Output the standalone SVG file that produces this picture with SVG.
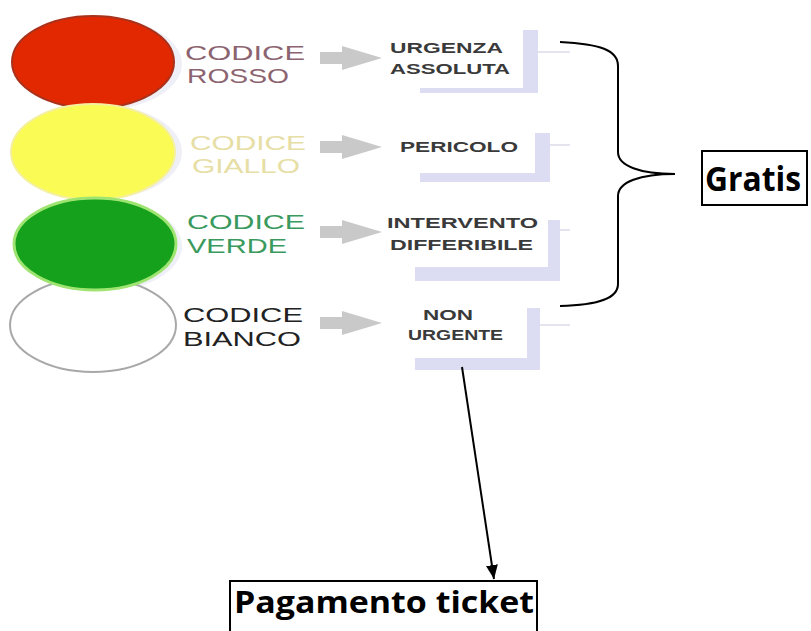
<svg xmlns="http://www.w3.org/2000/svg" width="811" height="631" viewBox="0 0 811 631">
<defs>
<style>
.code{font-family:"Liberation Sans",Arial,sans-serif;font-size:21px;}
.lab{font-family:"Liberation Sans",Arial,sans-serif;font-size:14px;font-weight:bold;fill:#3a3a3a;}
.garrow{fill:#c9c9c9;}
.brk{fill:#dcdcf2;}
.faint{stroke:#e4e4ee;stroke-width:2;fill:none;}
.big{font-family:"Open Sans","Liberation Sans",sans-serif;font-weight:bold;fill:#000;}
.box{fill:#fff;stroke:#000;stroke-width:2;}
</style>
<marker id="ah" viewBox="0 0 14 12" refX="14" refY="6" markerWidth="14" markerHeight="12" markerUnits="userSpaceOnUse" orient="auto">
<path d="M0,0 L14,6 L0,12 z" fill="#000"/>
</marker>
<g id="arr"><path class="garrow" d="M0,-6 L22,-6 L22,-12 L62,0 L22,12 L22,6 L0,6 z"/></g>
</defs>
<rect width="811" height="631" fill="#fff"/>

<g id="lights">
<ellipse cx="100" cy="64" rx="82" ry="46" fill="#e4e4f2" opacity="0.6"/>
<ellipse cx="100" cy="152" rx="82" ry="47" fill="#e4e4f2" opacity="0.6"/>
<ellipse cx="100" cy="246" rx="82" ry="46" fill="#e4e4f2" opacity="0.6"/>
<ellipse id="white-light" cx="93" cy="325" rx="83" ry="47" fill="#fff" stroke="#a8a8a8" stroke-width="2"/>
<ellipse id="red-light" cx="93" cy="62" rx="81" ry="46" fill="#e22800" stroke="#a8321c" stroke-width="2"/>
<ellipse id="yellow-light" cx="93" cy="152" rx="82" ry="48" fill="#fbfb55" stroke="#f4f0a0" stroke-width="2"/>
<ellipse id="green-light" cx="95" cy="244" rx="81" ry="46" fill="#16a11c" stroke="#9ee470" stroke-width="3"/>
</g>

<g id="row-rosso">
<text class="code" fill="#8c6470" x="185" y="60" textLength="120" lengthAdjust="spacingAndGlyphs">CODICE</text>
<text class="code" fill="#8c6470" x="187" y="83" textLength="102" lengthAdjust="spacingAndGlyphs">ROSSO</text>
<use href="#arr" x="320" y="58"/>
<path class="brk" d="M523,30 H538 V93 H420 V88 H523 z"/>
<line class="faint" x1="538" y1="52" x2="570" y2="52"/>
<text class="lab" x="390" y="53" textLength="113" lengthAdjust="spacingAndGlyphs">URGENZA</text>
<text class="lab" x="390" y="74" textLength="120" lengthAdjust="spacingAndGlyphs">ASSOLUTA</text>
</g>

<g id="row-giallo">
<text class="code" fill="#e6dea4" x="190" y="150" textLength="116" lengthAdjust="spacingAndGlyphs">CODICE</text>
<text class="code" fill="#e6dea4" x="192" y="173" textLength="108" lengthAdjust="spacingAndGlyphs">GIALLO</text>
<use href="#arr" x="320" y="147"/>
<path class="brk" d="M535,133 H550 V182 H420 V173 H535 z"/>
<line class="faint" x1="550" y1="145" x2="570" y2="145"/>
<text class="lab" x="400" y="152" textLength="118" lengthAdjust="spacingAndGlyphs">PERICOLO</text>
</g>

<g id="row-verde">
<text class="code" fill="#3a9a5e" x="187" y="229" textLength="118" lengthAdjust="spacingAndGlyphs">CODICE</text>
<text class="code" fill="#3a9a5e" x="187" y="253" textLength="100" lengthAdjust="spacingAndGlyphs">VERDE</text>
<use href="#arr" x="320" y="232"/>
<path class="brk" d="M548,220 H560 V281 H415 V267 H548 z"/>
<line class="faint" x1="560" y1="230" x2="570" y2="230"/>
<text class="lab" x="387" y="228" textLength="151" lengthAdjust="spacingAndGlyphs">INTERVENTO</text>
<text class="lab" x="390" y="250" textLength="143" lengthAdjust="spacingAndGlyphs">DIFFERIBILE</text>
</g>

<g id="row-bianco">
<text class="code" fill="#222" x="183" y="322" textLength="120" lengthAdjust="spacingAndGlyphs">CODICE</text>
<text class="code" fill="#222" x="183" y="346" textLength="118" lengthAdjust="spacingAndGlyphs">BIANCO</text>
<use href="#arr" x="320" y="323"/>
<path class="brk" d="M527,308 H540 V370 H415 V358 H527 z"/>
<line class="faint" x1="540" y1="325" x2="570" y2="325"/>
<text class="lab" x="423" y="320" textLength="50" lengthAdjust="spacingAndGlyphs">NON</text>
<text class="lab" x="408" y="340" textLength="95" lengthAdjust="spacingAndGlyphs">URGENTE</text>
</g>

<g id="gratis">
<rect class="box" x="702" y="151" width="105" height="54"/>
<text class="big" x="705" y="191" font-size="34" textLength="96" lengthAdjust="spacingAndGlyphs">Gratis</text>
</g>

<g id="pagamento">
<rect class="box" x="230" y="581" width="307" height="60"/>
<text class="big" x="234" y="613" font-size="31" textLength="300" lengthAdjust="spacingAndGlyphs">Pagamento ticket</text>
</g>

<g id="connectors" fill="none" stroke="#000" stroke-width="2">
<path d="M560,42 C600,44 618,50 618,66 V152 C618,166 640,174 675,174 C640,174 618,182 618,196 V284 C618,298 600,305 560,306"/>
<line x1="462" y1="367" x2="494" y2="579" marker-end="url(#ah)"/>
</g>
</svg>
